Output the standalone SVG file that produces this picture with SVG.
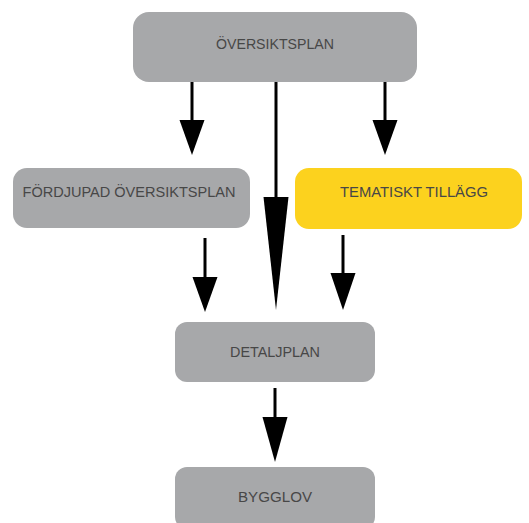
<svg xmlns="http://www.w3.org/2000/svg" width="529" height="523" viewBox="0 0 529 523">
<style>
.box{fill:#a7a8aa}
.yel{fill:#fcd21e}
.t{font-family:"Liberation Sans",Arial,sans-serif;font-size:14.5px;fill:#474747;text-anchor:middle}
.ln{stroke:#000;stroke-width:3;fill:none}
.hd{fill:#000}
</style>
<rect width="529" height="523" fill="#fff"/>
<g id="connectors">
<line class="ln" x1="192" y1="82" x2="192" y2="122"/><polygon class="hd" points="179.5,120 204.5,120 192,155"/>
<line class="ln" x1="276" y1="82" x2="276" y2="199"/><polygon class="hd" points="263.5,197 288.5,197 276,310"/>
<line class="ln" x1="385" y1="82" x2="385" y2="122"/><polygon class="hd" points="372.5,120 397.5,120 385,155"/>
<line class="ln" x1="205" y1="238" x2="205" y2="279"/><polygon class="hd" points="192.5,277 217.5,277 205,312"/>
<line class="ln" x1="343" y1="235" x2="343" y2="275"/><polygon class="hd" points="330.5,273 355.5,273 343,310"/>
<line class="ln" x1="275" y1="388" x2="275" y2="419"/><polygon class="hd" points="262.5,417 287.5,417 275,462"/>
</g>
<g id="oversiktsplan"><rect class="box" x="133" y="12" width="284" height="70" rx="16"/><text class="t" x="275" y="49" textLength="118" lengthAdjust="spacingAndGlyphs">ÖVERSIKTSPLAN</text></g>
<g id="fordjupad"><rect class="box" x="13" y="168" width="237" height="60" rx="14"/><text class="t" x="129" y="197" textLength="213" lengthAdjust="spacingAndGlyphs">FÖRDJUPAD ÖVERSIKTSPLAN</text></g>
<g id="tematiskt"><rect class="yel" x="295" y="168" width="227" height="61" rx="14"/><text class="t" x="414" y="197" textLength="148" lengthAdjust="spacingAndGlyphs">TEMATISKT TILLÄGG</text></g>
<g id="detaljplan"><rect class="box" x="175" y="322" width="200" height="60" rx="12"/><text class="t" x="275" y="357" textLength="90" lengthAdjust="spacingAndGlyphs">DETALJPLAN</text></g>
<g id="bygglov"><rect class="box" x="175" y="467" width="200" height="62" rx="12"/><text class="t" x="275" y="502" textLength="74" lengthAdjust="spacingAndGlyphs">BYGGLOV</text></g>
</svg>
